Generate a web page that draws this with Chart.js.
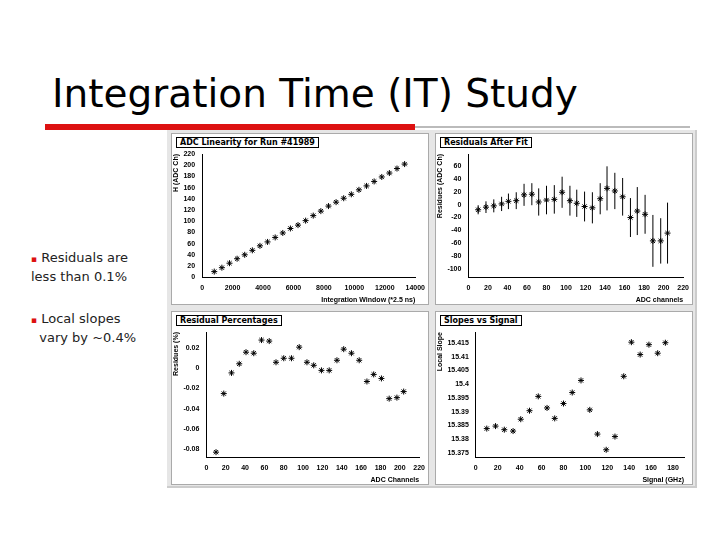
<!DOCTYPE html>
<html><head><meta charset="utf-8">
<script src="https://cdn.jsdelivr.net/npm/chart.js@4"></script>
<style>
body{margin:0;width:720px;height:540px;background:#fff;font-family:"DejaVu Sans",sans-serif;position:relative;overflow:hidden}
#title{position:absolute;left:52px;top:71px;font-size:39px;color:#000;font-family:"DejaVu Sans",sans-serif}
#red{position:absolute;left:45px;top:124px;width:370px;height:6px;background:#d11}
#grey{position:absolute;left:415px;top:126px;width:275px;height:2px;background:#bbb}
.b{position:absolute;font-size:13px;color:#222;line-height:18px}
.b span{color:#d11;font-size:9px}
#frame{position:absolute;left:167px;top:130px;width:528px;height:356px;background:#e6e6e6;border-right:2px solid #ccc;border-bottom:2px solid #ccc}
.p{position:absolute;background:#fff;border:1px solid #aaa}
.p canvas{position:absolute;left:0;top:0}
.lab{position:absolute;left:4px;top:3px;font-size:8px;font-weight:bold;border:1px solid #000;background:#fff;padding:0 3px;z-index:2}
</style></head><body>
<div id="title">Integration Time (IT) Study</div>
<div id="red"></div><div id="grey"></div>
<div class="b" style="left:31px;top:249px"><span>▪</span> Residuals are<br>less than 0.1%</div>
<div class="b" style="left:31px;top:310px"><span>▪</span> Local slopes<br>&nbsp;&nbsp;vary by ~0.4%</div>
<div id="frame">
<div class="p" style="left:4px;top:3px;width:256px;height:170px"><div class="lab">ADC Linearity for Run #41989</div><canvas id="c1" width="256" height="170"></canvas></div>
<div class="p" style="left:268px;top:3px;width:256px;height:170px"><div class="lab">Residuals After Fit</div><canvas id="c2" width="256" height="170"></canvas></div>
<div class="p" style="left:4px;top:181px;width:256px;height:172px"><div class="lab">Residual Percentages</div><canvas id="c3" width="256" height="172"></canvas></div>
<div class="p" style="left:268px;top:181px;width:256px;height:172px"><div class="lab">Slopes vs Signal</div><canvas id="c4" width="256" height="172"></canvas></div>
</div>
<script>
const intWin=[800,1300,1800,2300,2800,3300,3800,4300,4800,5300,5800,6300,6800,7300,7800,8300,8800,9300,9800,10300,10800,11300,11800,12300,12800,13300];
const adcK=[10,17,25,33,40,48,56,63,71,79,87,93,101,110,118,127,134,141,148,156,163,171,179,186,194,202];
const adcCh=[10,18,26,34,41,49,57,65,72,80,88,96,104,111,119,127,135,142,150,158,166,173,181,189,197,204];
const resid=[-8,-4,-2,1,5,6,15,16,4,7,8,19,6,2,-3,-5,9,25,21,12,-20,-10,-15,-56,-56,-44];
const residErr=[7,9,10,11,12,13,17,17,21,22,22,24,23,21,23,24,24,34,28,29,30,37,30,40,35,47];
const residPct=[-0.083,-0.025,-0.0045,0.0045,0.016,0.015,0.028,0.027,0.006,0.010,0.010,0.021,0.006,0.003,-0.002,-0.002,0.008,0.019,0.015,0.008,-0.013,-0.006,-0.010,-0.030,-0.029,-0.023];
const sigCh=[10,18,26,34,41,49,57,65,72,80,88,96,104,111,119,127,135,142,150,158,166,173];
const slopes=[15.3839,15.3848,15.3835,15.3830,15.3873,15.3904,15.3956,15.3914,15.3876,15.3930,15.3970,15.4014,15.3907,15.3819,15.3762,15.3810,15.4029,15.4153,15.4108,15.4144,15.4113,15.4151];
const tk1x=[0,2000,4000,6000,8000,10000,12000,14000], tk1y=[0,20,40,60,80,100,120,140,160,180,200,220];
const tk2x=[0,20,40,60,80,100,120,140,160,180,200,220], tk2y=[-100,-80,-60,-40,-20,0,20,40,60];
const tk3y=[-0.08,-0.06,-0.04,-0.02,0,0.02];
const tk4x=[0,20,40,60,80,100,120,140,160,180], tk4y=[15.375,15.38,15.385,15.39,15.395,15.4,15.405,15.41,15.415];

const F={size:7,weight:'bold'};
function ax(min,max,ticks,title,dec){
  return {type:'linear',min,max,afterBuildTicks:s=>{s.ticks=ticks.map(v=>({value:v}));},
    ticks:{font:F,color:'#000',maxRotation:0,autoSkip:false,callback:v=>dec!=null?(+v).toFixed(dec).replace(/\.?0+$/,'')||'0':String(v)},
    title:{display:true,text:title,align:'end',font:F,color:'#000',padding:0},
    grid:{display:false,drawTicks:true,tickLength:4},border:{color:'#000'}};
}
function mk(id,xs,ys,xo,yo,extra){
  const data=xs.map((x,i)=>({x,y:ys[i]}));
  return new Chart(document.getElementById(id),{type:'scatter',
    data:{datasets:[{data,pointStyle:'star',radius:3,borderColor:'#000',backgroundColor:'#000',borderWidth:1}]},
    options:{responsive:false,animation:false,layout:{padding:{top:20,right:8}},
      plugins:{legend:{display:false},tooltip:{enabled:false}},scales:{x:xo,y:yo}},
    plugins:extra?[extra]:[]});
}
mk('c1',intWin,adcK,ax(0,14000,tk1x,'Integration Window (*2.5 ns)'),ax(0,220,tk1y,'H (ADC Ch)'));
const errPlug={id:'err',afterDatasetsDraw(c){const x=c.scales.x,y=c.scales.y,g=c.ctx;g.save();g.strokeStyle='#000';g.lineWidth=1;
  adcCh.forEach((v,i)=>{const px=x.getPixelForValue(v);const t=y.getPixelForValue(resid[i]+residErr[i]),b=y.getPixelForValue(resid[i]-residErr[i]);
  g.beginPath();g.moveTo(px,t);g.lineTo(px,b);g.stroke();});g.restore();}};
mk('c2',adcCh,resid,ax(0,220,tk2x,'ADC channels'),ax(-112,78,tk2y,'Residues (ADC Ch)'),errPlug);
mk('c3',adcCh,residPct,ax(0,220,tk2x,'ADC Channels'),ax(-0.088,0.036,tk3y,'Residues (%)',2));
mk('c4',sigCh,slopes,ax(0,190,tk4x,'Signal (GHz)'),ax(15.3735,15.419,tk4y,'Local Slope',3));
</script></body></html>
